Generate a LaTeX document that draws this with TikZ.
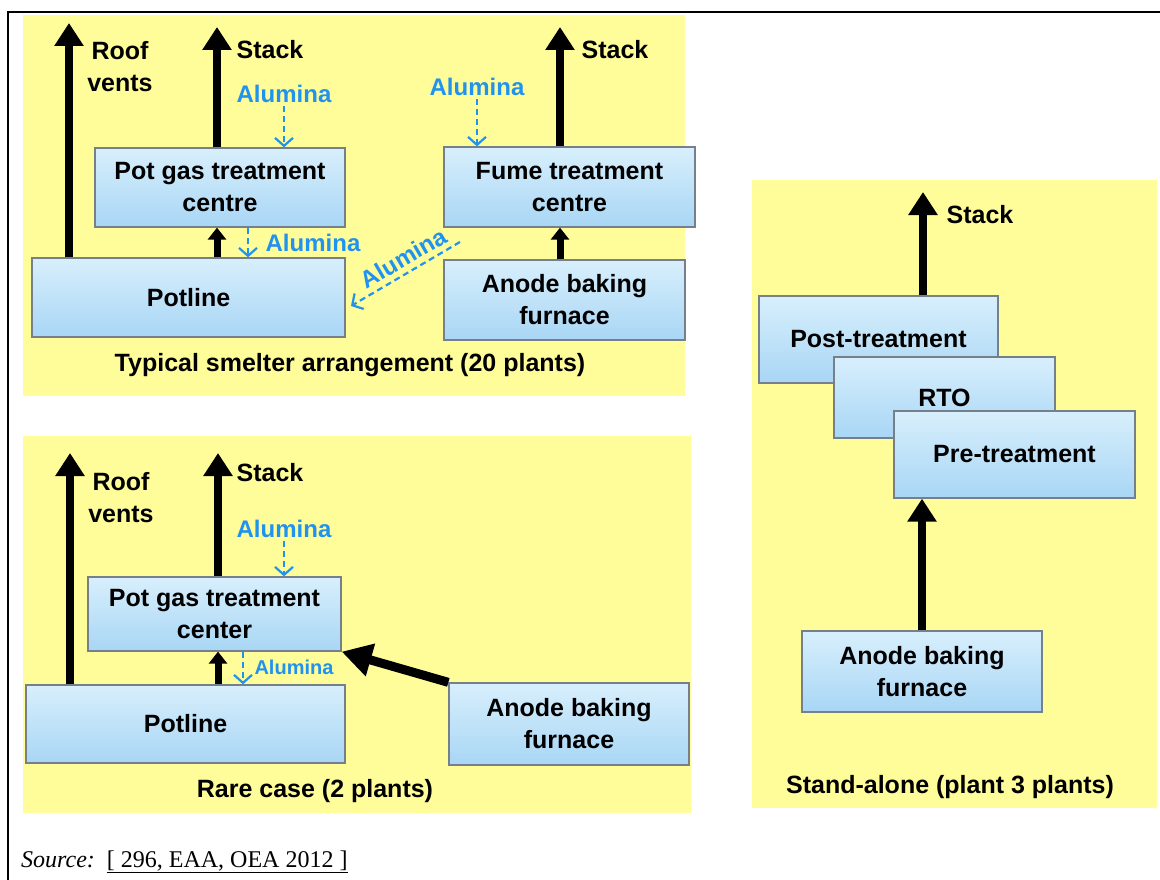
\documentclass[tikz,border=0pt]{standalone}
\usepackage{fontspec}
\setmainfont{Liberation Serif}
\setsansfont{Liberation Sans}
\usepackage{tikz}
\usetikzlibrary{positioning,arrows.meta}
\usepackage{xcolor}
\definecolor{panelyellow}{RGB}{255,253,153}
\definecolor{boxtop}{RGB}{216,239,252}
\definecolor{boxbot}{RGB}{168,214,245}
\definecolor{boxedge}{RGB}{118,128,138}
\definecolor{alublue}{RGB}{32,146,240}
\newcommand{\boxfont}{\sffamily\bfseries\fontsize{25}{32}\selectfont}
\newcommand{\alufont}{\sffamily\bfseries\fontsize{24}{28}\selectfont}
\newcommand{\alusmall}{\sffamily\bfseries\fontsize{20}{24}\selectfont}

\tikzset{
  box/.style={draw=boxedge,line width=1.3pt,top color=boxtop,bottom color=boxbot,
    align=center,font=\boxfont,inner sep=0pt},
  lbl/.style={font=\boxfont,align=center,inner sep=0pt},
  alulbl/.style={font=\alufont,text=alublue,inner sep=0pt},
  flow/.style={line width=8pt,-{Triangle[width=28pt,length=23pt]}},
  flowsmall/.style={line width=7pt,-{Triangle[width=18pt,length=12pt]}},
  flowbig/.style={line width=9pt,-{Triangle[width=32pt,length=30pt]}},
  alu/.style={draw=alublue,line width=2.2pt,dash pattern=on 6pt off 4pt,
    -{Straight Barb[width=18pt,length=8pt]}}
}

\begin{document}
\begin{tikzpicture}[x=1pt,y=-1pt]
        \useasboundingbox (0,0) rectangle (1160,880);
        \fill[panelyellow] (23,15) rectangle (685,396);
        \fill[panelyellow] (23,436) rectangle (691,813);
        \fill[panelyellow] (752,180) rectangle (1157,808);
        \draw[line width=2.5pt] (8,880) -- (8,12) -- (1160,12);

        % typical smelter arrangement
        \node[box,minimum width=250pt,minimum height=79pt] (pgtc1) at (220,187.5) {Pot gas treatment\\centre};
        \node[box,minimum width=313pt,minimum height=79pt] (pl1) at (188.5,297.5) {Potline};
        \node[box,minimum width=251pt,minimum height=80pt] (ftc1) at (569.5,187) {Fume treatment\\centre};
        \node[box,minimum width=241pt,minimum height=80pt] (abf1) at (564.5,300) {Anode baking\\furnace};
        \coordinate (rv1) at (69,23);
        \coordinate (st1) at (217,27);
        \coordinate (st2) at (560,27);
        \coordinate (ad1) at (248,243);
        \coordinate (ad2) at (460,242);
        \coordinate (ad3) at (351,306);
        \node[lbl] (rvl1) at (120,67) {Roof\\vents};
        \node[lbl] (stl1) at (270,50) {Stack};
        \node[lbl] (stl2) at (615,50) {Stack};
        \node[alulbl] (al1) at (284,94) {Alumina};
        \node[alulbl] (al2) at (313,243) {Alumina};
        \node[alulbl] (al3) at (477,87) {Alumina};
        \draw[flow] (pl1.north -| rv1) -- (rv1);
        \draw[flow] (pgtc1.north -| st1) -- (st1);
        \draw[flowsmall] (pl1.north -| st1) -- (pgtc1.south -| st1);
        \draw[flow] (ftc1.north -| st2) -- (st2);
        \draw[flowsmall] (abf1.north -| st2) -- (ftc1.south -| st2);
        \draw[alu] ([yshift=-3pt]al1.south) -- (al1.south |- pgtc1.north);
        \draw[alu] (pgtc1.south -| ad1) -- (pl1.north -| ad1);
        \draw[alu] ([yshift=-3pt]al3.south) -- (al3.south |- ftc1.north);
        \draw[alu] (ad2) -- node[pos=0.45,sloped,above=5pt,alulbl] (al6) {Alumina} (ad3);
        \node[lbl] (cap1) at (350,365) {Typical smelter arrangement (20 plants)};

        % rare case
        \node[box,minimum width=253pt,minimum height=74pt] (pgtc2) at (214.5,614) {Pot gas treatment\\center};
        \node[box,minimum width=319pt,minimum height=78pt] (pl2) at (185.5,724) {Potline};
        \node[box,minimum width=240pt,minimum height=82pt] (abf2) at (569,724) {Anode baking\\furnace};
        \coordinate (rv2) at (70,453);
        \coordinate (st3) at (218,453);
        \coordinate (ad4) at (243,667);
        \node[lbl] (rvl2) at (121,498) {Roof\\vents};
        \node[lbl] (stl3) at (270,473) {Stack};
        \node[alulbl] (al4) at (284,529) {Alumina};
        \node[alulbl,font=\alusmall] (al5) at (294,667) {Alumina};
        \draw[flow] (pl2.north -| rv2) -- (rv2);
        \draw[flow] (pgtc2.north -| st3) -- (st3);
        \draw[flowsmall] (pl2.north -| st3) -- (pgtc2.south -| st3);
        \draw[alu] ([yshift=-3pt]al4.south) -- (al4.south |- pgtc2.north);
        \draw[alu] (pgtc2.south -| ad4) -- (pl2.north -| ad4);
        \draw[flowbig] (abf2.north west) -- (pgtc2.south east);
        \node[lbl] (cap2) at (315,791) {Rare case (2 plants)};

        % stand-alone
        \node[box,minimum width=239pt,minimum height=87pt] (post) at (878.5,339.5) {Post-treatment};
        \node[box,minimum width=221pt,minimum height=81pt] (rto) at (944.5,397.5) {RTO};
        \node[box,minimum width=241pt,minimum height=87pt] (pre) at (1014.5,454.5) {Pre-treatment};
        \node[box,minimum width=240pt,minimum height=81pt] (abf3) at (922,671.5) {Anode baking\\furnace};
        \coordinate (st4) at (923,192);
        \node[lbl] (stl4) at (980,215) {Stack};
        \draw[flow] (post.north -| st4) -- (st4);
        \draw[flow] (abf3.north) -- (abf3.north |- pre.south);
        \node[lbl] (cap3) at (950,787) {Stand-alone (plant 3 plants)};

        \node[anchor=west,inner sep=0pt,font=\fontsize{24}{28}\selectfont] (src) at (21,862)
          {\textit{Source:}\ \ \underline{[ 296, EAA, OEA 2012 ]}};
      \end{tikzpicture}
\end{document}
